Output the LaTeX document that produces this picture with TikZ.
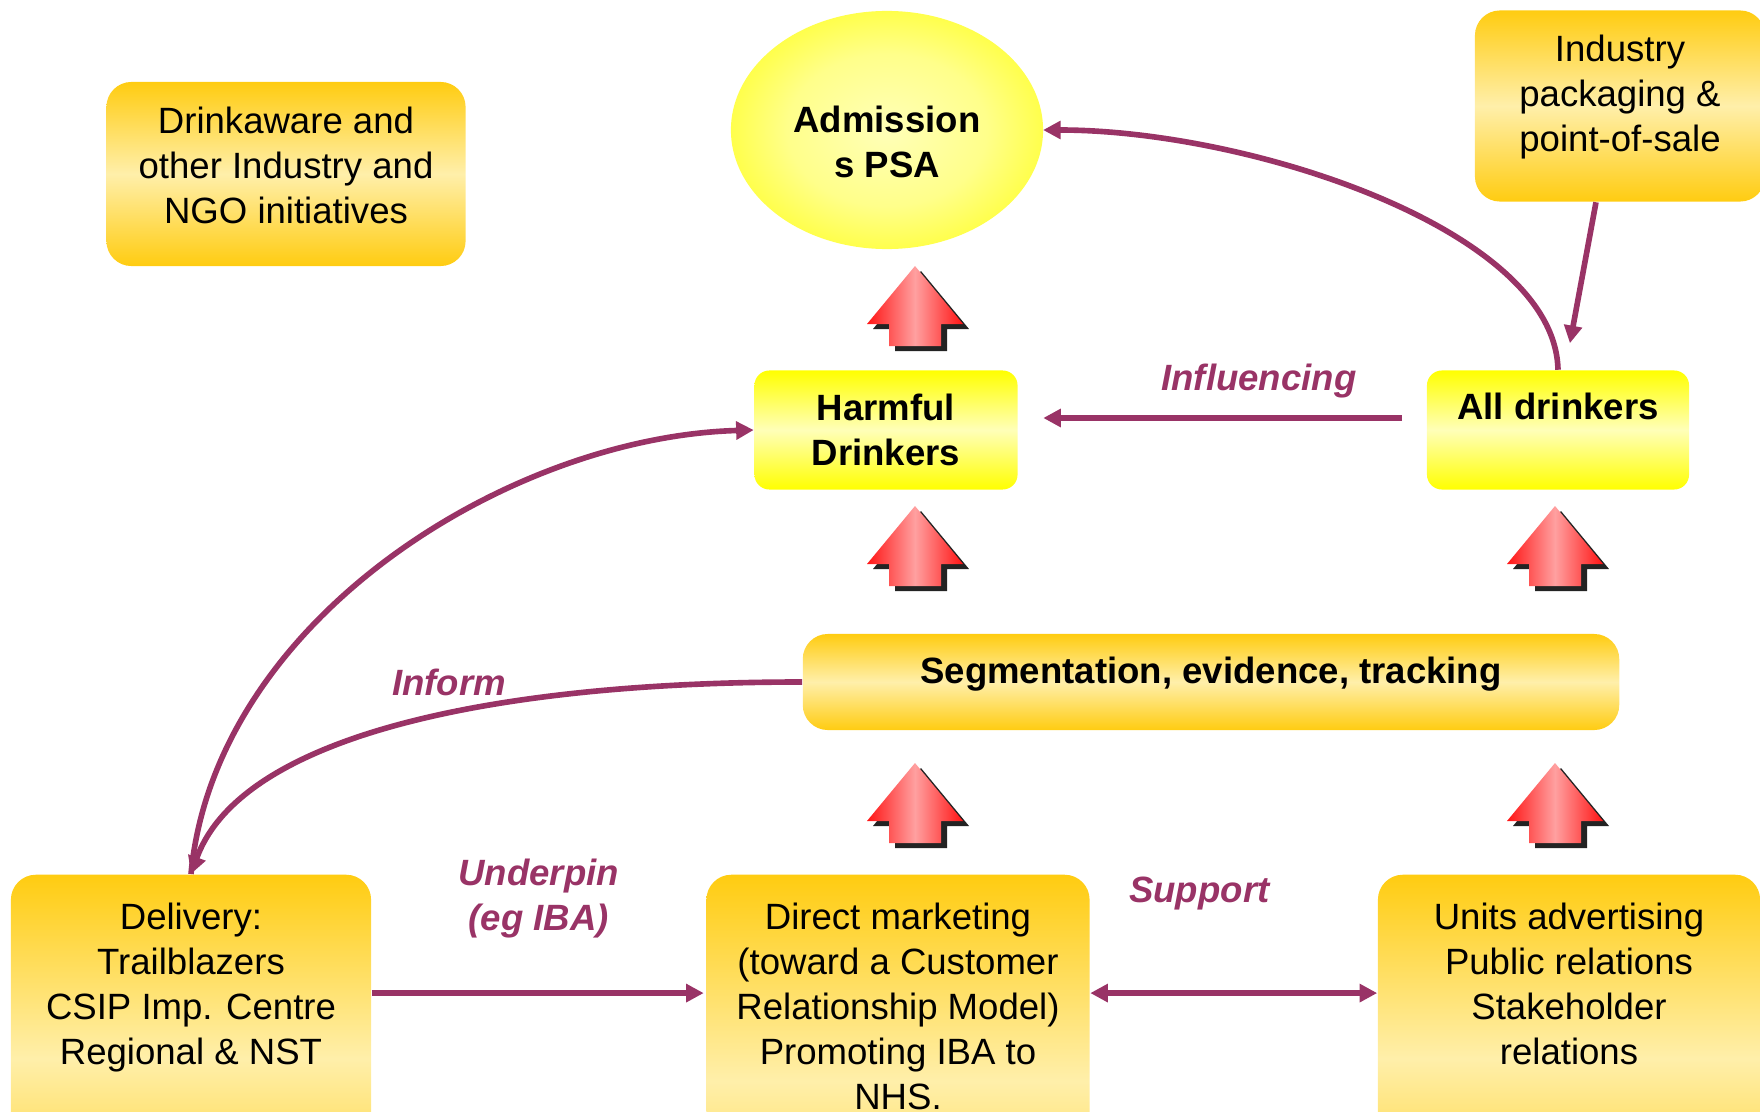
\documentclass[tikz,border=0pt]{standalone}
\usepackage{fontspec}
\setmainfont{Liberation Sans}
\usetikzlibrary{arrows.meta,positioning,shapes.geometric}

\definecolor{linkpurple}{RGB}{153,51,102}
\definecolor{goldedge}{RGB}{255,204,17}
\definecolor{goldpale}{RGB}{255,239,170}
\definecolor{yeledge}{RGB}{255,255,0}
\definecolor{yelpale}{RGB}{255,255,184}
\definecolor{arrred}{RGB}{255,20,20}
\definecolor{arrpink}{RGB}{255,160,160}
\definecolor{arrshade}{RGB}{35,35,35}

\pgfdeclareradialshading{psaglow}{\pgfpoint{0bp}{0bp}}{%
    color(0bp)=(yelpale); color(16bp)=(yelpale!75!yeledge);
    color(36bp)=(yeledge); color(100bp)=(yeledge)}

\begin{document}
\begin{tikzpicture}[
    x = 0.01cm, y = -0.01cm, % one unit per pixel, y runs down
    > = {Triangle[length=5pt,width=5pt]}, % arrow head style
    flow/.style = {draw=linkpurple, line width=1.6pt},
    lbl/.style = {text=linkpurple, align=center,
        font=\fontsize{10.4}{12.8}\selectfont\bfseries\itshape}
    ]

    \tikzset{
    goldbox/.style = {rectangle, rounded corners=0.25cm,
        top color=goldedge, bottom color=goldedge, middle color=goldpale,
        align=center, font=\fontsize{10.4}{12.8}\selectfont},
    yelbox/.style = {rectangle, rounded corners=0.15cm,
        top color=yeledge, bottom color=yeledge, middle color=yelpale,
        align=center, font=\fontsize{10.4}{12.8}\selectfont\bfseries},
    boldtext/.style = {font=\fontsize{10.4}{12.8}\selectfont\bfseries},
    botbox/.style = {goldbox, anchor=north, inner ysep=0.28cm, text depth=1.5cm},
    redup/.pic = {
        \fill[arrshade, shift={(6,5)}] (0,0) -- (48,58) -- (26,58) -- (26,80)
            -- (-26,80) -- (-26,58) -- (-48,58) -- cycle;
        \shade[left color=arrred, right color=arrred, middle color=arrpink]
            (0,0) -- (48,58) -- (26,58) -- (26,80)
            -- (-26,80) -- (-26,58) -- (-48,58) -- cycle;
    }
    }

    \useasboundingbox (0,0) rectangle (1760,1112);
    \clip (0,0) rectangle (1760,1112);

    % red arrows
    \pic at (915,266) {redup};
    \pic at (915,506) {redup};
    \pic at (1555,506) {redup};
    \pic at (915,763) {redup};
    \pic at (1555,763) {redup};

    % boxes
    \node[goldbox, minimum width=3.59cm, minimum height=1.84cm, text depth=0.18cm]
        (drink) at (286,174) {Drinkaware and\\other Industry and\\NGO initiatives};
    \node[ellipse, shading=psaglow, inner sep=0pt, outer sep=0pt,
        minimum width=3.12cm, minimum height=2.38cm, align=center, boldtext,
        text height=0.95cm] (psa) at (887,130) {Admission\\s PSA};
    \node[goldbox, minimum width=2.9cm, minimum height=1.91cm, text depth=0.25cm]
        (ind) at (1620,106) {Industry\\packaging \&\\point-of-sale};
    \node[yelbox, minimum width=2.63cm, minimum height=1.19cm]
        (harm) at (886,430) {Harmful\\Drinkers};
    \node[yelbox, minimum width=2.62cm, minimum height=1.19cm, text depth=0.48cm]
        (all) at (1558,430) {All drinkers};
    \node[goldbox, boldtext, minimum width=8.16cm, minimum height=0.96cm, text depth=0.24cm]
        (seg) at (1211,682) {Segmentation, evidence, tracking};
    \node[botbox, minimum width=3.6cm] (deliv) at (191,874)
        {Delivery:\\Trailblazers\\CSIP Imp. Centre\\Regional \& NST};
    \node[botbox, minimum width=3.83cm] (dm) at (898,874)
        {Direct marketing\\(toward a Customer\\Relationship Model)\\Promoting IBA to\\NHS.};
    \node[botbox, minimum width=3.82cm] (units) at (1569,874)
        {Units advertising\\Public relations\\Stakeholder\\relations};

    % connectors
    \draw[flow, ->, shorten <=0.24cm, shorten >=0.25cm] ([yshift=0.12cm]all.west)
        -- node[lbl, pos=0.41, above=0.05cm] (infl) {Influencing} ([yshift=0.12cm]harm.east);
    \draw[flow, ->, shorten >=0.27cm] ([xshift=-0.24cm]ind.south) -- ([xshift=0.07cm]all.north);
    \draw[flow, ->] (all.north) .. controls +(-3,-140) and +(206,0) .. (psa.east);
    \draw[flow, ->] (seg.west) .. controls +(-300,0) and +(51,-141) .. (deliv.north);
    \draw[flow, ->] (deliv.north) .. controls +(24,-254) and +(-245,7) .. (harm.west);
    \node[lbl] (inform) at (449,682) {Inform};
    \draw[flow, ->, shorten >=0.02cm] ([yshift=-1.19cm]deliv.north east)
        -- node[lbl, midway, above=0.4cm] (underpin) {Underpin\\(eg IBA)} ([yshift=-1.19cm]dm.north west);
    \draw[flow, <->] ([yshift=-1.19cm]dm.north east)
        -- node[lbl, pos=0.38, above=0.68cm] (support) {Support} ([yshift=-1.19cm]units.north west);
\end{tikzpicture}
\end{document}
